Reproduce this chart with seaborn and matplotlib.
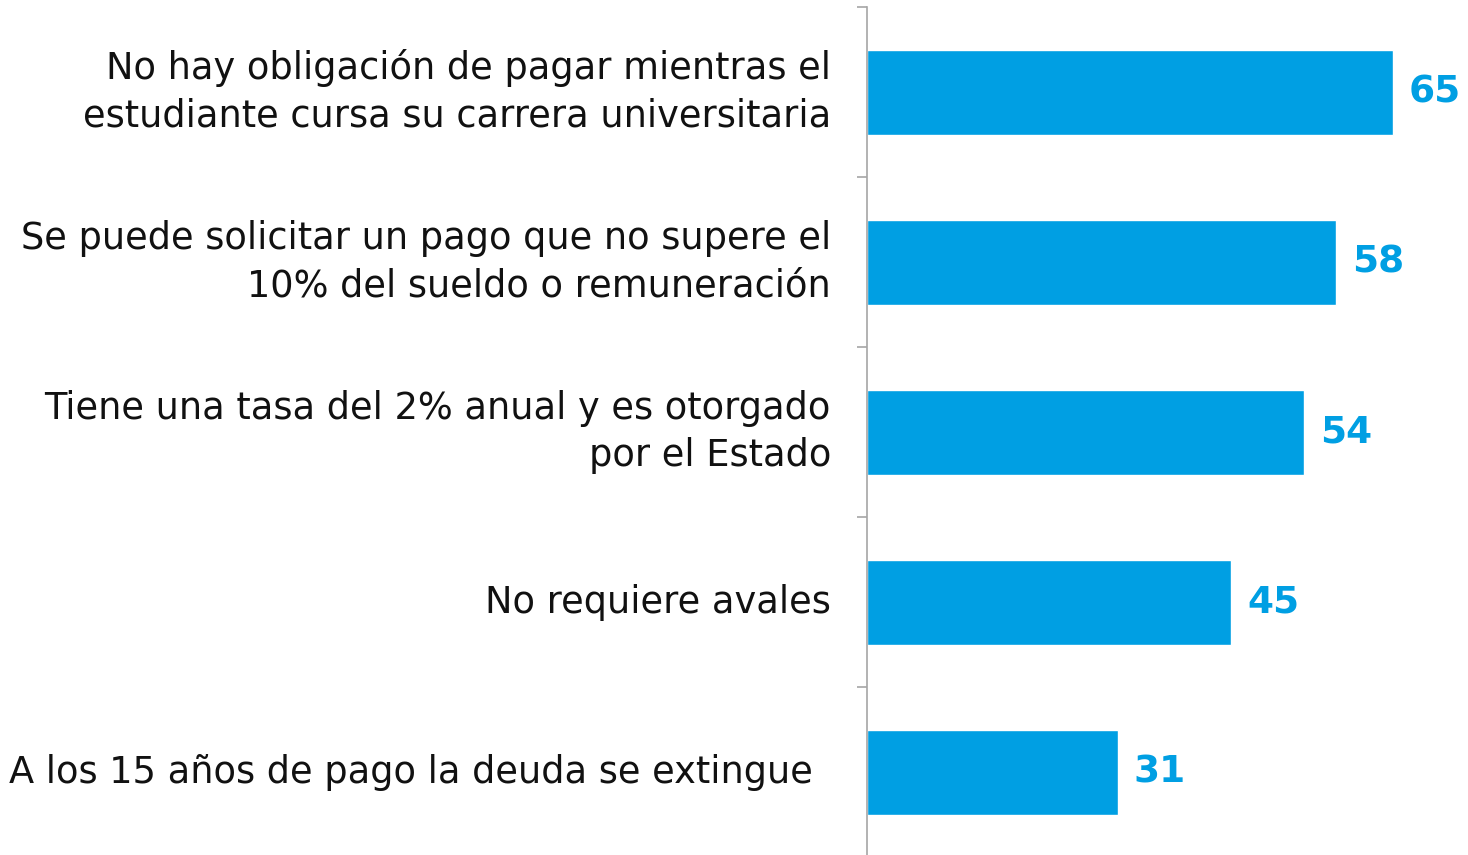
import matplotlib
matplotlib.use("Agg")
import matplotlib.pyplot as plt
import seaborn as sns
import numpy as np
import pandas as pd

# datos del gráfico
categorias = [
    "No hay obligación de pagar mientras el\nestudiante cursa su carrera universitaria",
    "Se puede solicitar un pago que no supere el\n10% del sueldo o remuneración",
    "Tiene una tasa del 2% anual y es otorgado\npor el Estado",
    "No requiere avales",
    "A los 15 años de pago la deuda se extingue\u2002",
]
valores = [65, 58, 54, 45, 31]

AZUL = "#009FE3"
GRIS = "#A6A6A6"

sns.set_theme(style="white")
plt.rcParams["font.family"] = ["DejaVu Sans"]

df = pd.DataFrame({"categoria": categorias, "valor": valores})

fig = plt.figure(figsize=(14.68, 8.55), dpi=100)
ax = fig.add_axes([867 / 1468, -2 / 855, 1 - 867 / 1468, 850 / 855])

sns.barplot(data=df, y="categoria", x="valor", orient="h", color=AZUL,
            width=0.5, saturation=1, ax=ax)

ax.set_xlim(0, 74.3)
ax.set_ylim(len(categorias) - 0.5, -0.5)
ax.set_xlabel("")
ax.set_ylabel("")
ax.set_xticks([])

# etiquetas de categorías
ax.tick_params(axis="y", which="major", length=0, pad=26,
               labelsize=26.5, labelcolor="#111111")
for lbl in ax.get_yticklabels():
    lbl.set_linespacing(1.36)
    lbl.set_ha("right")
    lbl.set_va("center")

# marcas entre categorías
ax.set_yticks(np.arange(-0.5, len(categorias), 1), minor=True)
ax.tick_params(axis="y", which="minor", length=7.5, width=1.2, color=GRIS,
               left=True)

for s in ["top", "right", "bottom"]:
    ax.spines[s].set_visible(False)
ax.spines["left"].set_color(GRIS)
ax.spines["left"].set_linewidth(1.2)

# valores al final de cada barra
for i, v in enumerate(valores):
    ax.text(v + 2.0, i, f"{v}", va="center", ha="left", color=AZUL,
            fontsize=27, fontweight="bold")

fig.savefig("out.png", dpi=100)
